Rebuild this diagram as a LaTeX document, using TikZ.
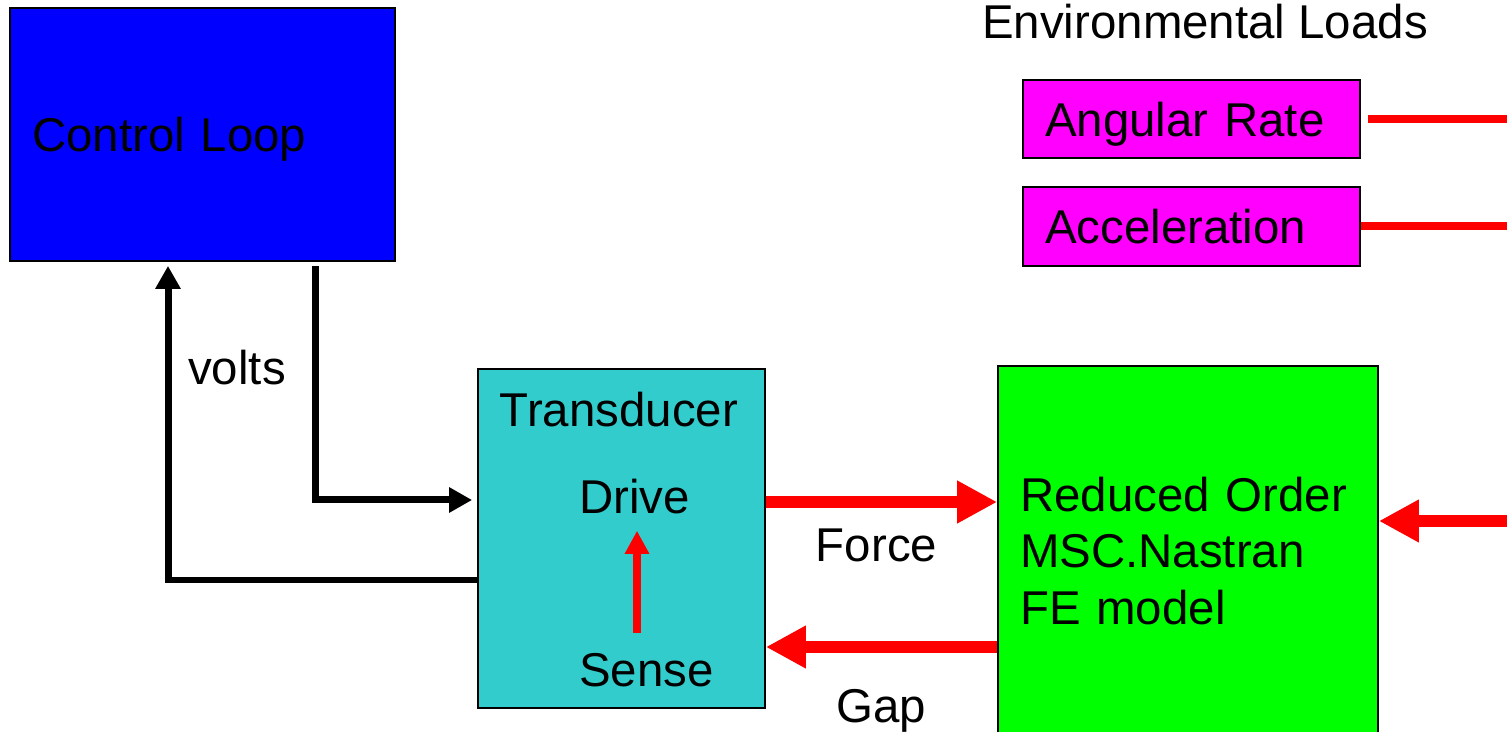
\documentclass[tikz,border=0pt]{standalone}
\usepackage{fontspec}
\setmainfont{Liberation Sans}
\usetikzlibrary{arrows.meta}
\definecolor{loopblue}{RGB}{0,0,255}
\definecolor{loadmagenta}{RGB}{255,0,255}
\definecolor{modelgreen}{RGB}{0,255,0}
\definecolor{transteal}{RGB}{51,204,204}
\definecolor{signalred}{RGB}{255,0,0}

\begin{document}
\begin{tikzpicture}[x=0.02cm, y=-0.02cm,
  every node/.style={font=\fontsize{27pt}{32pt}\selectfont},
  block/.style={draw, line width=1pt, align=left, inner xsep=0.44cm, inner ysep=0pt},
  caption/.style={inner sep=0pt, text=black},
  wire/.style={line width=0.14cm, -{Triangle[length=0.46cm,width=0.48cm]}},
  force/.style={signalred, line width=0.24cm, -{Triangle[length=0.8cm,width=0.8cm]}},
  sensing/.style={signalred, line width=0.17cm, -{Triangle[length=0.46cm,width=0.46cm]}},
  load/.style={signalred, line width=0.16cm}]
  \clip (0,0) rectangle (1507,732);

  % blocks
  \node[block, fill=loopblue, text depth=0pt, minimum width=7.7cm, minimum height=5.06cm, text width=6.82cm] (ctrl) at (202.5,134.5) {Control Loop};
  \node[block, fill=loadmagenta, text depth=0pt, line width=1.5pt, minimum width=6.74cm, minimum height=1.56cm, text width=5.86cm] (ang) at (1191.5,119) {Angular Rate};
  \node[block, fill=loadmagenta, line width=1.5pt, minimum width=6.74cm, minimum height=1.58cm, text width=5.86cm] (acc) at (1191.5,226.5) {Acceleration};
  \node[block, fill=transteal, minimum width=5.74cm, minimum height=6.78cm] (trans) at (621.5,538.5) {};
  \node[block, fill=modelgreen, minimum width=7.6cm, minimum height=7.4cm, text width=6.72cm] (fe) at (1188,551) {Reduced Order\\MSC.Nastran\\FE model};

  % texts
  \node[caption] (envtitle) at (1205,22) {Environmental Loads};
  \node[caption] (transtitle) at (619,410) {Transducer};
  \node[caption] (drive) at (634.5,497) {Drive};
  \node[caption] (sense) at (646.5,670) {Sense};
  \node[caption] (volts) at (237,368) {volts};

  % helper positions
  \coordinate (outx) at (315,0);
  \coordinate (backx) at (168,0);
  \coordinate (drivey) at (0,500);
  \coordinate (backy) at (0,580);
  \coordinate (senseaxis) at (637,0);
  \coordinate (forcey) at (0,502);
  \coordinate (gapy) at (0,647);
  \coordinate (edge) at (1507,0);
  \coordinate (feload) at (1507,521);

  % control loop wiring
  \draw[wire, shorten <=0.08cm, shorten >=0.1cm] (ctrl.south -| outx) |- (trans.west |- drivey);
  \draw[wire, shorten >=0.08cm] (trans.west |- backy) -| (ctrl.south -| backx);

  % transducer internals
  \draw[sensing, shorten <=0.4cm, shorten >=0.32cm] (sense.north -| senseaxis) -- (drive.south -| senseaxis);

  % force and gap
  \draw[force] (trans.east |- forcey) -- (fe.west |- forcey)
    node[caption, midway, below=0.42cm, xshift=-0.1cm] {Force};
  \draw[force] (fe.west |- gapy) -- (trans.east |- gapy)
    node[caption, midway, below=0.72cm] {Gap};

  % environmental loads
  \draw[load, shorten <=0.14cm] (ang.east) -- (ang.east -| edge);
  \draw[load] (acc.east) -- (acc.east -| edge);
  \draw[force] (feload) -- (fe.east |- feload);
\end{tikzpicture}
\end{document}
